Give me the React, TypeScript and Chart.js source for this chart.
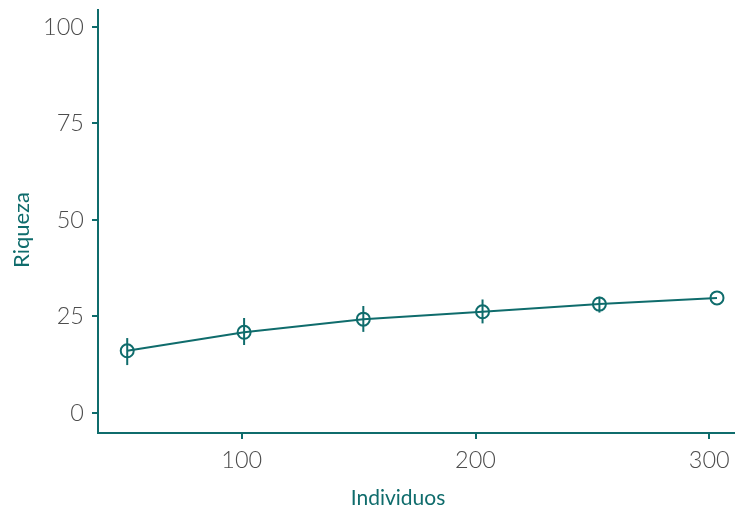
import React, { useEffect, useRef } from "react";
import { Chart, registerables } from "chart.js";

Chart.register(...registerables);

const individuos = [51, 101, 152, 203, 253, 303.3];
const riqueza = [16.1, 20.9, 24.3, 26.2, 28.2, 29.8];
const riquezaLow = [12.4, 17.6, 21.0, 23.2, 26.0, 29.8];
const riquezaHigh = [19.4, 24.6, 27.7, 29.4, 30.1, 29.8];
const xTicks = [100, 200, 300];
const yTicks = [0, 25, 50, 75, 100];
const xTitle = "Individuos";
const yTitle = "Riqueza";

const TEAL = "#0f6c6c";
const GRAY = "#4d4d4d";

const errorBars = {
  id: "errorBars",
  afterDatasetsDraw(chart: any) {
    const { ctx, scales } = chart;
    const xs = scales.x;
    const ys = scales.y;
    ctx.save();
    ctx.strokeStyle = TEAL;
    ctx.lineWidth = 2;
    for (let i = 0; i < individuos.length; i++) {
      const x = xs.getPixelForValue(individuos[i]);
      const y1 = ys.getPixelForValue(riquezaLow[i]);
      const y2 = ys.getPixelForValue(riquezaHigh[i]);
      ctx.beginPath();
      ctx.moveTo(x, y1);
      ctx.lineTo(x, y2);
      ctx.stroke();
    }
    ctx.restore();
  },
};

const axisTitles = {
  id: "axisTitles",
  afterDraw(chart: any) {
    const { ctx } = chart;
    ctx.save();
    ctx.fillStyle = TEAL;
    ctx.textAlign = "center";
    ctx.textBaseline = "middle";
    ctx.font = "400 21px Lato";
    ctx.fillText(xTitle, 398, 498);
    ctx.translate(22, 230);
    ctx.rotate(-Math.PI / 2);
    ctx.font = "400 22px Lato";
    ctx.fillText(yTitle, 0, 0);
    ctx.restore();
  },
};

export default function App() {
  const ref = useRef<HTMLCanvasElement>(null);
  useEffect(() => {
    if (!ref.current) return;
    const chart = new Chart(ref.current, {
      type: "line",
      data: {
        datasets: [
          {
            data: individuos.map((x, i) => ({ x, y: riqueza[i] })),
            borderColor: TEAL,
            borderWidth: 2,
            pointRadius: 6.5,
            pointBorderWidth: 2,
            pointBorderColor: TEAL,
            pointBackgroundColor: "rgba(0,0,0,0)",
            fill: false,
            tension: 0,
          },
        ],
      },
      plugins: [errorBars, axisTitles],
      options: {
        animation: false,
        responsive: false,
        devicePixelRatio: 1,
        layout: { autoPadding: false, padding: { top: 10, right: 0, left: 0, bottom: 0 } },
        plugins: { legend: { display: false }, tooltip: { enabled: false } },
        scales: {
          x: {
            type: "linear",
            min: 38.5,
            max: 311,
            afterBuildTicks: (s: any) => {
              s.ticks = xTicks.map((v) => ({ value: v }));
            },
            afterFit: (s: any) => {
              s.height = 76;
              s.paddingLeft = 0;
              s.paddingRight = 0;
            },
            border: { display: true, color: TEAL, width: 2 },
            grid: {
              display: true,
              drawOnChartArea: false,
              drawTicks: true,
              tickLength: 6,
              color: TEAL,
              lineWidth: 2,
            },
            ticks: {
              color: GRAY,
              font: { family: "Lato", size: 23.5, weight: "300" },
              padding: 7,
              maxRotation: 0,
            },
          },
          y: {
            type: "linear",
            min: -5.2,
            max: 104.4,
            afterBuildTicks: (s: any) => {
              s.ticks = yTicks.map((v) => ({ value: v }));
            },
            afterFit: (s: any) => {
              s.width = 98;
              s.paddingTop = 0;
              s.paddingBottom = 0;
            },
            border: { display: true, color: TEAL, width: 2 },
            grid: {
              display: true,
              drawOnChartArea: false,
              drawTicks: true,
              tickLength: 6,
              color: TEAL,
              lineWidth: 2,
            },
            ticks: {
              color: GRAY,
              font: { family: "Lato", size: 23.5, weight: "300" },
              padding: 8,
            },
          },
        },
      },
    });
    return () => chart.destroy();
  }, []);
  return (
    <div style={{ position: "fixed", left: 0, top: 0, width: 735, height: 509, background: "#fff" }}>
      <canvas ref={ref} width={735} height={509} style={{ width: 735, height: 509 }} />
    </div>
  );
}
